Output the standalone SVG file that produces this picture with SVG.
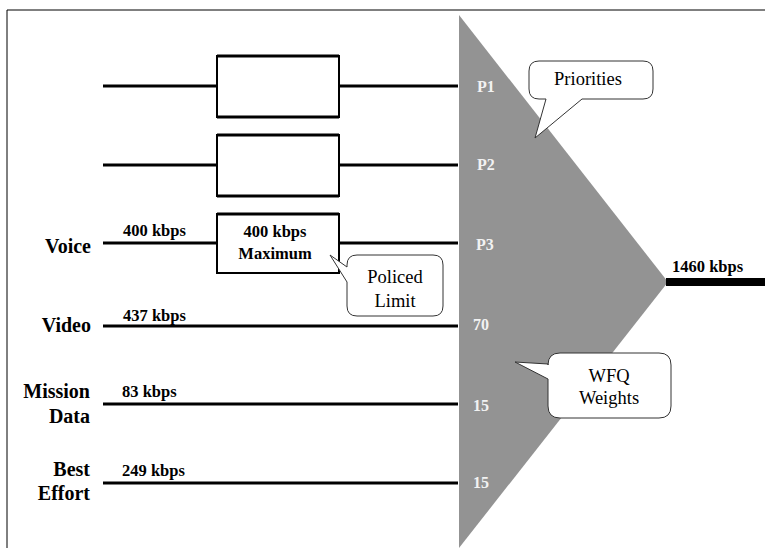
<svg xmlns="http://www.w3.org/2000/svg" width="765" height="548" viewBox="0 0 765 548">
<style>
.ln{stroke:#000;stroke-width:3;fill:none}
.bx{fill:#fff;stroke:#000;stroke-width:2}
.lbl{font-family:"Liberation Serif",serif;font-weight:bold;font-size:20px;fill:#000;text-anchor:end}
.rate{font-family:"Liberation Serif",serif;font-weight:bold;font-size:16.5px;fill:#000}
.pri{font-family:"Liberation Serif",serif;font-weight:bold;font-size:16px;fill:#f2f2f2}
.call{fill:#fff;stroke:#333;stroke-width:1}
.ct{font-family:"Liberation Serif",serif;font-size:18.5px;fill:#000;text-anchor:middle}
</style>
<rect width="765" height="548" fill="#fff"/>
<path d="M7,548 V10 H765" fill="none" stroke="#000" stroke-width="1"/>
<g id="scheduler">
<polygon points="459,15 668,282 459,548" fill="#939393"/>
<text class="pri" x="477" y="92">P1</text>
<text class="pri" x="477" y="170">P2</text>
<text class="pri" x="476" y="250">P3</text>
<text class="pri" x="473" y="330">70</text>
<text class="pri" x="473" y="411">15</text>
<text class="pri" x="473" y="488">15</text>
</g>
<g id="connectors">
<line class="ln" x1="103" y1="86" x2="217" y2="86"/>
<line class="ln" x1="339" y1="86" x2="458" y2="86"/>
<line class="ln" x1="103" y1="165" x2="217" y2="165"/>
<line class="ln" x1="339" y1="165" x2="458" y2="165"/>
<line class="ln" x1="103" y1="243" x2="217" y2="243"/>
<line class="ln" x1="339" y1="243" x2="458" y2="243"/>
<line class="ln" x1="103" y1="326" x2="458" y2="326"/>
<line class="ln" x1="103" y1="404" x2="458" y2="404"/>
<line class="ln" x1="103" y1="483" x2="458" y2="483"/>
<line x1="666" y1="282" x2="765" y2="282" stroke="#000" stroke-width="8"/>
</g>
<g id="box1">
<rect class="bx" x="217" y="56" width="122" height="61" stroke-width="1.5"/>
<line x1="217" y1="56" x2="339" y2="56" stroke="#000" stroke-width="3"/>
<line x1="217" y1="117" x2="339" y2="117" stroke="#000" stroke-width="3"/>
</g>
<g id="box2">
<rect class="bx" x="217" y="135" width="122" height="61" stroke-width="1.5"/>
<line x1="217" y1="135" x2="339" y2="135" stroke="#000" stroke-width="3"/>
<line x1="217" y1="196" x2="339" y2="196" stroke="#000" stroke-width="3"/>
</g>
<g id="box3">
<rect class="bx" x="217" y="214" width="122" height="59"/>
<line x1="217" y1="214" x2="339" y2="214" stroke="#000" stroke-width="3"/>
<text class="rate" x="275" y="237" text-anchor="middle">400 kbps</text>
<text class="rate" x="275" y="259" text-anchor="middle">Maximum</text>
</g>
<g id="voice">
<text class="lbl" x="91" y="253">Voice</text>
<text class="rate" x="123" y="236">400 kbps</text>
</g>
<g id="video">
<text class="lbl" x="91" y="332">Video</text>
<text class="rate" x="123" y="321">437 kbps</text>
</g>
<g id="mission">
<text class="lbl" x="90" y="398">Mission</text>
<text class="lbl" x="90" y="423">Data</text>
<text class="rate" x="122" y="397">83 kbps</text>
</g>
<g id="besteffort">
<text class="lbl" x="90" y="476">Best</text>
<text class="lbl" x="90" y="500">Effort</text>
<text class="rate" x="122" y="476">249 kbps</text>
</g>
<g id="output">
<text class="rate" x="672" y="272">1460 kbps</text>
</g>
<g id="callout-priorities">
<path class="call" d="M539,61 H643 Q653,61 653,71 V89 Q653,99 643,99 H582 L535,138 L546,99 H539 Q529,99 529,89 V71 Q529,61 539,61 Z"/>
<text class="ct" x="588" y="85">Priorities</text>
</g>
<g id="callout-policed">
<path class="call" d="M357,255 H433 Q443,255 443,265 V306 Q443,316 433,316 H357 Q347,316 347,306 V282 L330,255 L347,267 V265 Q347,255 357,255 Z"/>
<text class="ct" x="395" y="283">Policed</text>
<text class="ct" x="395" y="307">Limit</text>
</g>
<g id="callout-wfq">
<path class="call" d="M560,353 H659 Q671,353 671,365 V406 Q671,418 659,418 H560 Q548,418 548,406 V379 L515,362 L548,364 V365 Q548,353 560,353 Z"/>
<text class="ct" x="609" y="382">WFQ</text>
<text class="ct" x="609" y="404">Weights</text>
</g>
</svg>
